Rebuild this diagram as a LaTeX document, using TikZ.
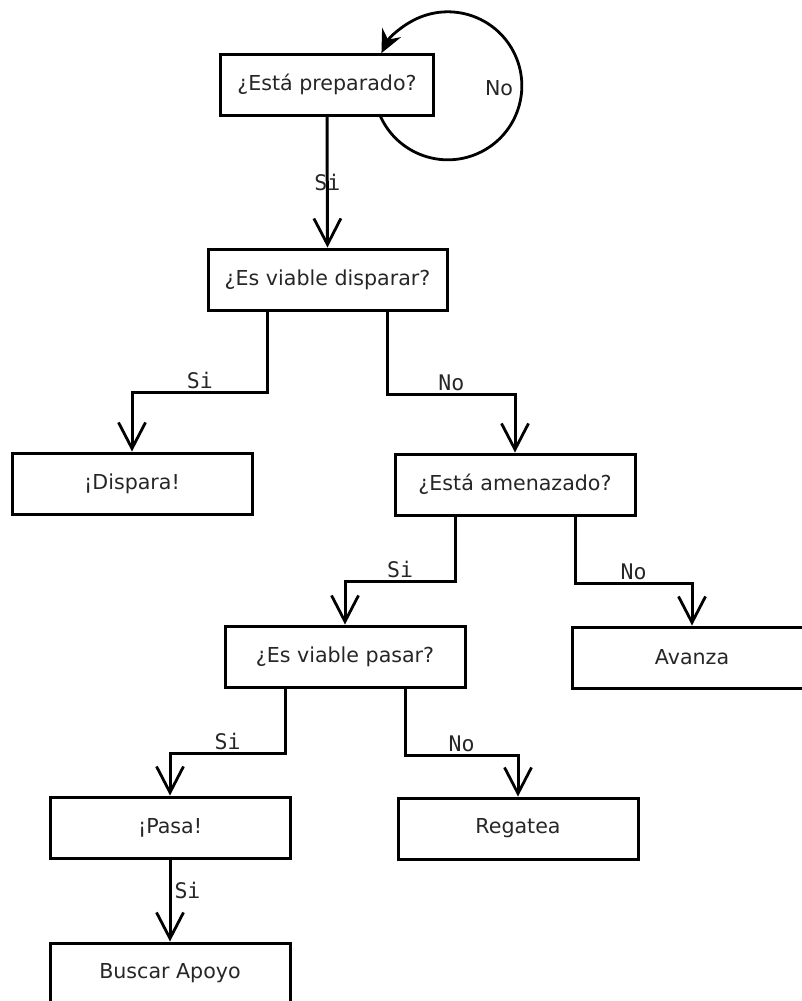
\documentclass[tikz,border=0pt]{standalone}
\usepackage{fontspec}
\setmainfont{DejaVu Sans}
\newfontfamily\labelfont{DejaVu Sans Mono}
\usetikzlibrary{arrows.meta,calc}

\tikzset{
  box/.style={draw, line width=3pt, minimum width=240pt, minimum height=61pt,
    inner sep=0pt, font=\fontsize{20.6}{24}\selectfont, text=black!85},
  flow/.style={line width=3pt, -{Straight Barb[length=26pt, width=27pt, line width=2.8pt]}},
  loopflow/.style={line width=2.8pt, -{Stealth[length=23pt, width=21pt, inset=8pt]}},
  lbl/.style={font=\labelfont\fontsize{21.5}{25}\selectfont, text=black!85, inner sep=2pt}
}

\begin{document}
\begin{tikzpicture}[x=1pt, y=1pt]
  \useasboundingbox (0,0) rectangle (802,-1001);
  \clip (0,0) rectangle (802,-1001);

  % decision and action boxes
  \node[box, minimum width=213pt] (prep) at (327,-84.5) {¿Está preparado?};
  \node[box, minimum width=239pt] (disp) at (327.5,-279.5) {¿Es viable disparar?};
  \node[box] (shoot) at (132,-483.5) {¡Dispara!};
  \node[box] (threat) at (515,-484.5) {¿Está amenazado?};
  \node[box] (pass) at (345,-656.5) {¿Es viable pasar?};
  \node[box] (adv) at (692,-657.5) {Avanza};
  \node[box] (dopass) at (170,-827.5) {¡Pasa!};
  \node[box] (drib) at (518,-828.5) {Regatea};
  \node[box] (support) at (170,-973.5) {Buscar Apoyo};

  % waiting loop on the first question
  \draw[loopflow] ($(prep.south)+(53.5,0)$) arc[start angle=204.5, end angle=513.8, radius=74];
  \node[box, draw=none, minimum width=0pt, minimum height=0pt] (nolbl) at (499,-88) {No};

  % straight link to the shot decision
  \draw[flow] (prep.south) -- node[lbl, midway] {Si} (disp.north);

  % branches of the shot decision
  \draw[flow] ($(disp.south)+(-60,0)$) -- ++(0,-81) -| node[lbl, pos=0.25, above] {Si} (shoot.north);
  \draw[flow] ($(disp.south)+(60,0)$) -- ++(0,-83) -| node[lbl, pos=0.25, above] {No} (threat.north);

  % branches of the threat decision
  \draw[flow] ($(threat.south)+(-60,0)$) -- ++(0,-65) -| node[lbl, pos=0.25, above] {Si} (pass.north);
  \draw[flow] ($(threat.south)+(60,0)$) -- ++(0,-67) -| node[lbl, pos=0.25, above] {No} (adv.north);

  % branches of the pass decision
  \draw[flow] ($(pass.south)+(-60,0)$) -- ++(0,-65) -| node[lbl, pos=0.25, above] {Si} (dopass.north);
  \draw[flow] ($(pass.south)+(60,0)$) -- ++(0,-67) -| node[lbl, pos=0.25, above] {No} (drib.north);

  % after passing
  \draw[flow] (dopass.south) -- node[lbl, pos=0.38, right, xshift=1pt] {Si} (support.north);
\end{tikzpicture}
\end{document}
